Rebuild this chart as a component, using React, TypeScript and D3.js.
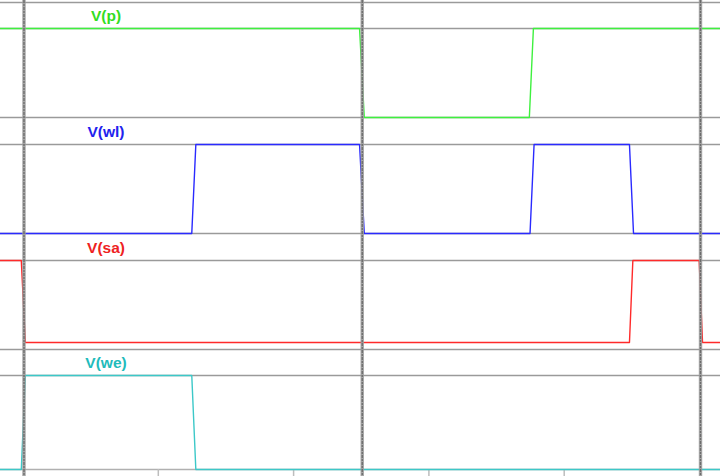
import React from "react";
import * as d3 from "d3";

const W = 720;
const H = 476;

// time axis (arbitrary units): 0..10 between the thick cursor lines
const xDomain = [0, 10];
const xTicks = [2, 4, 6, 8];
const cursorTimes = [0, 5, 10];

const seriesNames = ["V(p)", "V(wl)", "V(sa)", "V(we)"];
const seriesColors = ["#3ef03e", "#2a2aff", "#ff2a2a", "#3cc8c8"];
const labelColors = ["#33dd22", "#2222ee", "#ee2222", "#22bbbb"];

const pTimes = [-0.4, 4.96, 5.03, 7.47, 7.53, 10.4];
const pValues = [1.8, 1.8, 0, 0, 1.8, 1.8];

const wlTimes = [-0.4, 2.48, 2.54, 4.96, 5.03, 7.48, 7.54, 8.95, 9.01, 10.4];
const wlValues = [0, 0, 1.8, 1.8, 0, 0, 1.8, 1.8, 0, 0];

const saTimes = [-0.4, -0.04, 0.02, 8.95, 9.0, 9.98, 10.03, 10.4];
const saValues = [1.8, 1.8, 0, 0, 1.8, 1.8, 0, 0];

const weTimes = [-0.4, -0.04, 0.02, 2.48, 2.54, 10.4];
const weValues = [0, 0, 1.8, 1.8, 0, 0];

const allTimes = [pTimes, wlTimes, saTimes, weTimes];
const allValues = [pValues, wlValues, saValues, weValues];
const yDomains = [
  [0, 1.8],
  [0, 1.8],
  [-0.154, 1.8],
  [0, 1.8],
];

// pane geometry: [paneTop, dataTop, paneBottom]
const panes = [
  [2, 28, 117],
  [117, 144, 233],
  [233, 260, 349],
  [349, 375, 469],
];

export default function App() {
  const x = d3.scaleLinear().domain(xDomain).range([24, 700.5]);

  return (
    <div style={{ position: "absolute", left: 0, top: 0 }}>
      <svg width={W} height={H} style={{ display: "block", background: "#fff" }}>
        <rect x={0} y={0} width={W} height={H} fill="#fff" />
        {/* horizontal pane lines */}
        {panes.map((p, i) => (
          <g key={"h" + i}>
            <line x1={0} x2={W} y1={p[0] + 0.5} y2={p[0] + 0.5} stroke="#9a9a9a" strokeWidth={1.3} />
            <line x1={0} x2={W} y1={p[1] + 0.5} y2={p[1] + 0.5} stroke="#9a9a9a" strokeWidth={1.3} />
          </g>
        ))}
        <line x1={0} x2={W} y1={469.5} y2={469.5} stroke="#b0b0b0" strokeWidth={1.3} />
        {/* bottom ticks */}
        {xTicks.map((t) => (
          <line key={"t" + t} x1={x(t) - 1} x2={x(t) - 1} y1={469} y2={H} stroke="#bdbdbd" strokeWidth={1.5} />
        ))}
        {/* waveforms */}
        {panes.map((p, i) => {
          const y = d3.scaleLinear().domain(yDomains[i]).range([p[2] + 0.5, p[1] + 0.5]);
          const pts = allTimes[i].map((t, k) => [t, allValues[i][k]] as [number, number]);
          const gen = d3
            .line<[number, number]>()
            .x((d) => x(d[0]))
            .y((d) => y(d[1]));
          return (
            <path
              key={"s" + i}
              d={gen(pts) || ""}
              fill="none"
              stroke={seriesColors[i]}
              strokeWidth={1.4}
              strokeLinejoin="round"
            />
          );
        })}
        {/* thick cursor lines */}
        {cursorTimes.map((t) => (
          <g key={"c" + t}>
            <line x1={x(t)} x2={x(t)} y1={0} y2={H} stroke="#9c9c9c" strokeWidth={3.4} opacity={0.9} />
            <line x1={x(t)} x2={x(t)} y1={0} y2={H} stroke="#5e5e5e" strokeWidth={1.3} strokeDasharray="3 1 2 1" opacity={0.8} />
          </g>
        ))}
        {/* labels */}
        {panes.map((p, i) => (
          <text
            key={"l" + i}
            x={106}
            y={p[1] - 7}
            textAnchor="middle"
            fontFamily="Liberation Sans, Arial, sans-serif"
            fontWeight="bold"
            fontSize={15.5}
            fill={labelColors[i]}
          >
            {seriesNames[i]}
          </text>
        ))}
      </svg>
    </div>
  );
}
